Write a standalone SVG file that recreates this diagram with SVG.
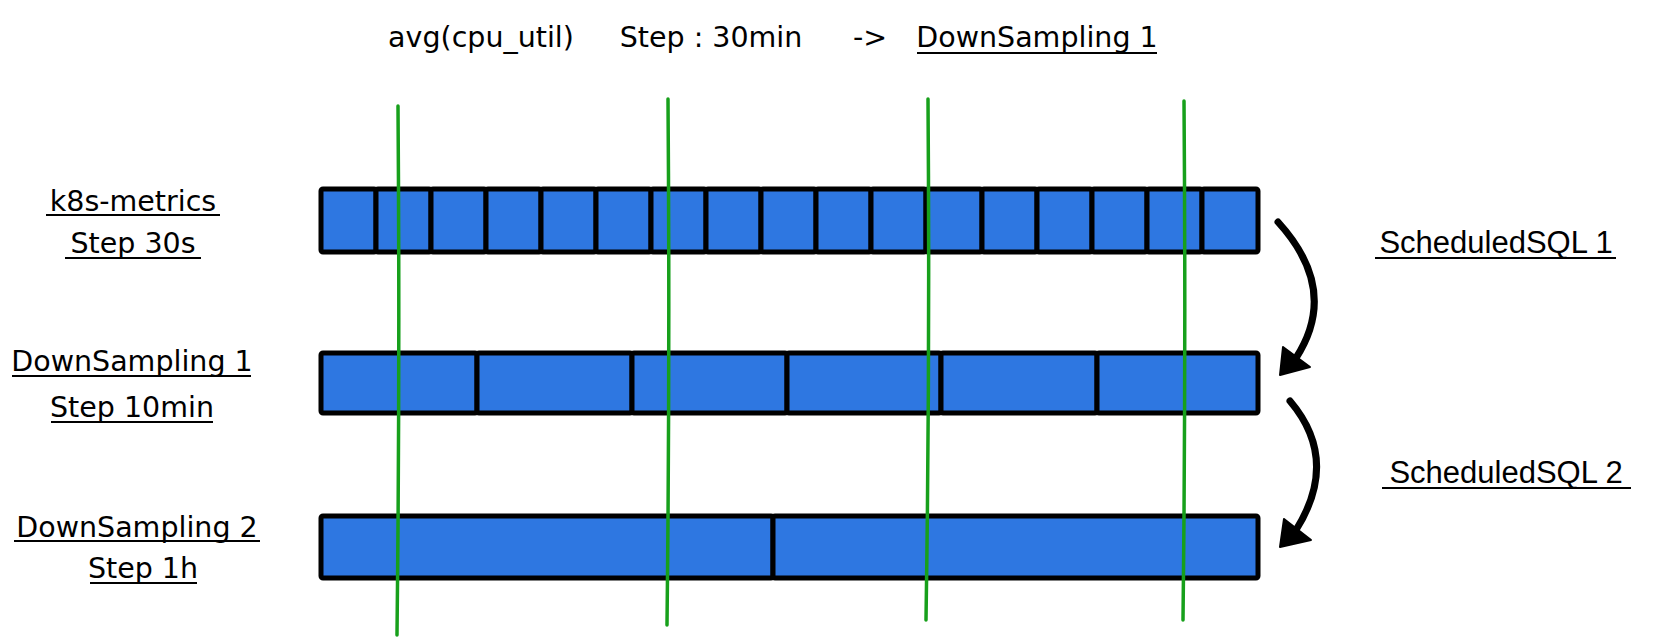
<svg xmlns="http://www.w3.org/2000/svg" width="1668" height="644" viewBox="0 0 1668 644">
<style>
.lbl{font-family:"DejaVu Sans","Liberation Sans",sans-serif;font-size:28.5px;fill:#000;text-anchor:middle}
.sq{font-family:"Liberation Sans",Arial,sans-serif;font-size:31px;fill:#000;text-anchor:middle}
.ul{stroke:#000;stroke-width:2}
.cell{fill:#2e77e1;stroke:#000;stroke-width:5;stroke-linejoin:round}
.grid{stroke:#17a01b;stroke-width:3.5;fill:none;stroke-linecap:round}
.arr{stroke:#000;stroke-width:7;fill:none;stroke-linecap:round}
.head{fill:#000;stroke:#000;stroke-width:2;stroke-linejoin:round}
</style>
<rect width="1668" height="644" fill="#ffffff"/>

<g id="title">
<text class="lbl" x="481" y="47">avg(cpu_util)</text>
<text class="lbl" x="711" y="47">Step : 30min</text>
<text class="lbl" x="870" y="47">-&gt;</text>
<text class="lbl" x="1037" y="47">DownSampling 1</text>
<line class="ul" x1="917" y1="53" x2="1157" y2="53"/>
</g>

<g id="label-k8s">
<text class="lbl" x="133" y="211">k8s-metrics</text>
<line class="ul" x1="46" y1="215" x2="220" y2="215"/>
<text class="lbl" x="133" y="253">Step 30s</text>
<line class="ul" x1="65" y1="258" x2="201" y2="258"/>
</g>
<g id="label-ds1">
<text class="lbl" x="132" y="371">DownSampling 1</text>
<line class="ul" x1="12" y1="376" x2="251" y2="376"/>
<text class="lbl" x="132" y="417">Step 10min</text>
<line class="ul" x1="51" y1="422" x2="213" y2="422"/>
</g>
<g id="label-ds2">
<text class="lbl" x="137" y="537">DownSampling 2</text>
<line class="ul" x1="14" y1="541" x2="260" y2="541"/>
<text class="lbl" x="143" y="578">Step 1h</text>
<line class="ul" x1="90" y1="583" x2="197" y2="583"/>
</g>

<g id="row-k8s">
<rect class="cell" x="321" y="189" width="55" height="63" rx="2"/>
<rect class="cell" x="376" y="189" width="55" height="63" rx="2"/>
<rect class="cell" x="431" y="189" width="55" height="63" rx="2"/>
<rect class="cell" x="486" y="189" width="55" height="63" rx="2"/>
<rect class="cell" x="541" y="189" width="55" height="63" rx="2"/>
<rect class="cell" x="596" y="189" width="55" height="63" rx="2"/>
<rect class="cell" x="651" y="189" width="55" height="63" rx="2"/>
<rect class="cell" x="706" y="189" width="55" height="63" rx="2"/>
<rect class="cell" x="761" y="189" width="55" height="63" rx="2"/>
<rect class="cell" x="816" y="189" width="55" height="63" rx="2"/>
<rect class="cell" x="871" y="189" width="55" height="63" rx="2"/>
<rect class="cell" x="926" y="189" width="56" height="63" rx="2"/>
<rect class="cell" x="982" y="189" width="55" height="63" rx="2"/>
<rect class="cell" x="1037" y="189" width="55" height="63" rx="2"/>
<rect class="cell" x="1092" y="189" width="55" height="63" rx="2"/>
<rect class="cell" x="1147" y="189" width="55" height="63" rx="2"/>
<rect class="cell" x="1202" y="189" width="56" height="63" rx="2"/>
</g>

<g id="row-ds1">
<rect class="cell" x="321" y="353" width="156" height="60" rx="2"/>
<rect class="cell" x="477" y="353" width="155" height="60" rx="2"/>
<rect class="cell" x="632" y="353" width="155" height="60" rx="2"/>
<rect class="cell" x="787" y="353" width="154" height="60" rx="2"/>
<rect class="cell" x="941" y="353" width="156" height="60" rx="2"/>
<rect class="cell" x="1097" y="353" width="161" height="60" rx="2"/>
</g>

<g id="row-ds2">
<rect class="cell" x="321" y="516" width="452" height="62" rx="2"/>
<rect class="cell" x="773" y="516" width="485" height="62" rx="2"/>
</g>

<g id="grid-lines">
<path class="grid" d="M398 106 Q400 370 397 635"/>
<path class="grid" d="M668 99 Q670 360 667 625"/>
<path class="grid" d="M928 99 Q930 360 926 620"/>
<path class="grid" d="M1184 101 Q1186 360 1183 620"/>
</g>

<g id="label-sql1">
<text class="sq" x="1496" y="253">ScheduledSQL 1</text>
<line class="ul" x1="1375" y1="258" x2="1616" y2="258"/>
</g>
<g id="label-sql2">
<text class="sq" x="1506" y="483">ScheduledSQL 2</text>
<line class="ul" x1="1382" y1="488" x2="1631" y2="488"/>
</g>

<g id="connectors">
<path class="arr" d="M1278 222 Q1340 290 1296 358"/>
<polygon class="head" points="1280,375 1283,347 1310,367"/>
<path class="arr" d="M1290 401 Q1340 460 1296 530"/>
<polygon class="head" points="1280,547 1284,519 1311,540"/>
</g>
</svg>
